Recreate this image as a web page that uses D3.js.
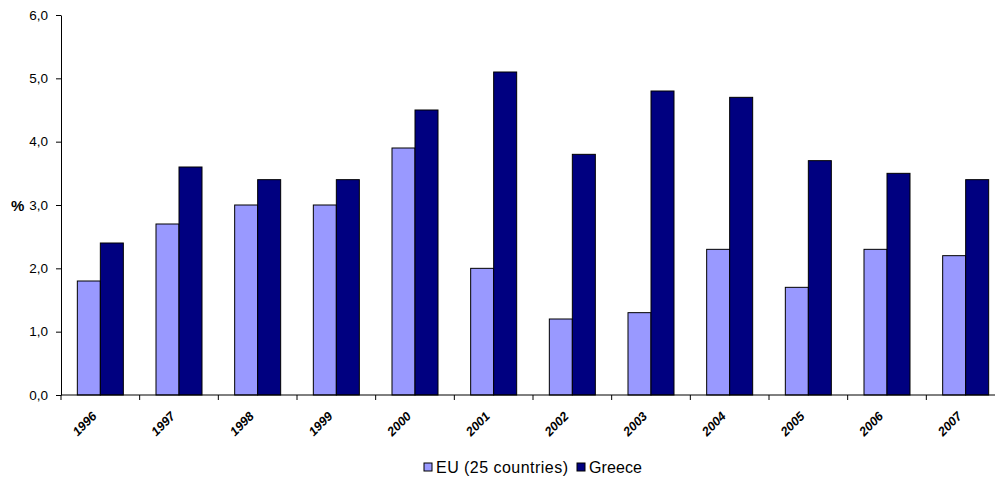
<!DOCTYPE html>
<html><head><meta charset="utf-8">
<script src="https://cdn.jsdelivr.net/npm/d3@7"></script>
<style>body{margin:0;background:#fff;} svg{display:block;font-family:"Liberation Sans",Arial,sans-serif;}</style>
</head><body>
<svg id="c" width="995" height="480"></svg>
<script>
const years = ["1996","1997","1998","1999","2000","2001","2002","2003","2004","2005","2006","2007"];
const eu = [1.8,2.7,3.0,3.0,3.9,2.0,1.2,1.3,2.3,1.7,2.3,2.2];
const greece = [2.4,3.6,3.4,3.4,4.5,5.1,3.8,4.8,4.7,3.7,3.5,3.4];
const seriesNames = ["EU (25 countries)","Greece"];
const colors = ["#9999FF","#000080"];
const yTicks = [0,1,2,3,4,5,6];

(function(){
const svg = d3.select("#c");
const mL = 61, mR = 1005, mT = 15, mB = 395;
const x = d3.scaleBand().domain(years).range([mL,mR]).paddingInner(0).paddingOuter(0);
const y = d3.scaleLinear().domain([0,6]).range([mB,mT]);
const inner = d3.scaleBand().domain([0,1]).range([0, x.bandwidth()]).paddingInner(0).paddingOuter(0.71);

const data = years.map((yr,i)=>({yr, vals:[eu[i],greece[i]]}));
const g = svg.append("g");
data.forEach(d=>{
  d.vals.forEach((v,k)=>{
    g.append("rect")
      .attr("x", x(d.yr)+inner(k))
      .attr("y", y(v))
      .attr("width", inner.bandwidth())
      .attr("height", y(0)-y(v))
      .attr("fill", colors[k])
      .attr("stroke","#000").attr("stroke-width",1);
  });
});

const ya = svg.append("g").attr("transform",`translate(${mL},0)`)
  .call(d3.axisLeft(y).tickValues(yTicks).tickSize(5).tickSizeOuter(0).tickFormat(d=>d3.format(".1f")(d).replace(".",",")));
ya.select(".domain").attr("stroke","#000");
ya.selectAll("text").attr("font-size",13.5).attr("fill","#000").attr("x",-13);

const xa = svg.append("g").attr("transform",`translate(0,${mB})`);
xa.append("line").attr("x1",mL).attr("x2",mR).attr("y1",0).attr("y2",0).attr("stroke","#000");
years.forEach((yr,i)=>{
  xa.append("line").attr("x1",x(yr)).attr("x2",x(yr)).attr("y1",0).attr("y2",5).attr("stroke","#000");
});
years.forEach(yr=>{
  const cx = x(yr)+x.bandwidth()/2 - 3;
  xa.append("text").attr("transform",`translate(${cx},${22}) rotate(-45)`)
    .attr("text-anchor","end").attr("font-size",12.5).attr("font-weight","bold").attr("font-style","italic")
    .text(yr);
});

svg.append("text").attr("x",11).attr("y",211).attr("font-size",15).attr("font-weight","bold").text("%");

const leg = svg.append("g");
const legX = [424, 577];
const legLen = [132, 53];
seriesNames.forEach((n,k)=>{
  leg.append("rect").attr("x",legX[k]).attr("y",463).attr("width",8).attr("height",8)
    .attr("fill",colors[k]).attr("stroke","#000");
  leg.append("text").attr("x",legX[k]+12).attr("y",473).attr("font-size",16)
    .attr("textLength",legLen[k]).attr("lengthAdjust","spacing").text(n);
});
})();
</script>
</body></html>
